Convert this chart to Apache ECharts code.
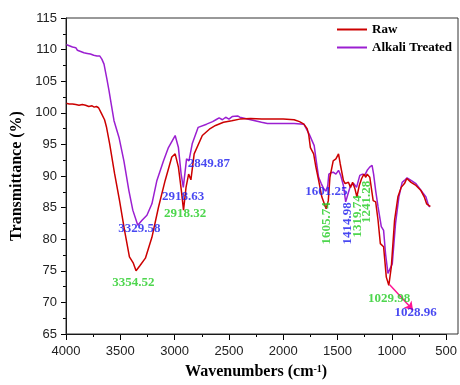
<!DOCTYPE html>
<html>
<head>
<meta charset="utf-8">
<script src="https://cdn.jsdelivr.net/npm/echarts@6/dist/echarts.min.js"></script>
<style>html,body{margin:0;padding:0;background:#fff}#c{width:460px;height:385px}</style>
</head>
<body>
<div id="c"></div>
<script>
// ---- data (wavenumber, transmittance) ----
const rawWave = [4000,3970,3940,3910,3880,3850,3820,3790,3760,3740,3720,3700,3690,3674,3660,3645,3628,3598,3553,3507,3461,3416,3380,3355,3320,3269,3209,3148,3087,3026,2995,2965,2940,2918,2895,2871,2850,2820,2745,2680,2623,2550,2474,2400,2300,2200,2100,2000,1900,1850,1810,1780,1765,1750,1735,1720,1700,1674,1645,1605,1585,1570,1540,1515,1491,1475,1446,1430,1400,1380,1361,1340,1322,1300,1278,1257,1240,1227,1203,1188,1172,1149,1127,1106,1076,1051,1028,1005,975,944,914,884,862,823,778,732,702,680,656,645];
const rawTrans = [101.5,101.4,101.4,101.3,101.2,101.3,101.2,101.0,101.1,100.9,101.0,100.8,101.0,99.9,99.6,98.9,97.8,95.1,90.4,86.1,81.4,77.2,76.2,75.0,75.8,77.0,80.3,85.1,89.3,93.0,93.5,91.4,88.0,84.6,88.2,90.3,89.4,93.5,96.4,97.4,98.0,98.5,98.75,99.0,99.1,99.0,99.0,99.0,98.9,98.6,98.2,97.5,96.5,94.5,94.3,93.5,91.5,89.3,86.7,84.8,86.1,89.8,92.4,92.7,93.5,91.9,89.3,88.8,89.0,88.2,89.0,88.0,86.7,88.5,89.6,90.3,89.8,90.3,89.8,90.1,86.1,85.9,83.0,79.3,78.8,74.0,72.7,75.6,83.0,86.7,88.2,88.8,89.6,89.0,88.5,87.7,86.7,85.6,85.3,85.2];

const alkWave = [4000,3985,3970,3955,3940,3925,3910,3895,3880,3865,3850,3835,3820,3805,3790,3775,3760,3745,3730,3715,3700,3690,3670,3650,3625,3604,3580,3558,3512,3467,3421,3385,3339,3300,3255,3209,3163,3102,3057,2995,2965,2940,2920,2890,2868,2838,2783,2706,2650,2620,2590,2560,2530,2500,2470,2453,2420,2400,2300,2200,2146,2000,1900,1810,1796,1760,1735,1715,1696,1674,1650,1628,1605,1590,1580,1560,1540,1515,1491,1471,1446,1425,1400,1380,1350,1325,1295,1270,1250,1227,1204,1182,1168,1149,1127,1097,1076,1058,1036,1022,996,966,935,905,884,860,823,778,717,686,662,650];
const alkTrans = [110.8,110.5,110.6,110.3,110.4,110.1,110.3,109.9,110.1,109.7,109.9,109.5,109.8,109.4,109.6,109.3,109.5,109.1,109.3,109.0,109.2,109.0,108.5,107.7,105.5,103.5,101.0,98.75,96.1,92.4,87.7,84.6,82.2,83.0,83.8,85.6,89.3,92.4,94.5,96.4,94.5,90.3,88.2,92.7,92.4,95.1,97.7,98.2,98.6,98.9,99.2,98.9,99.3,99.0,99.4,99.2,99.5,99.3,98.9,98.5,98.3,98.3,98.3,98.2,98.0,96.6,95.6,94.8,92.4,89.8,88.8,88.0,87.6,88.5,90.3,90.5,90.6,90.3,90.9,90.1,88.5,85.9,87.4,88.5,88.8,88.2,90.1,90.3,90.1,90.9,91.4,91.7,90.3,87.7,85.1,82.0,81.4,77.7,74.6,74.3,76.1,82.5,86.7,89.0,89.3,89.7,89.3,88.8,87.4,86.7,85.3,85.1];

// peak annotations: [wavenumber, transmittance, text, group, rotated]
const peakLabels = [
  [3379, 73.1, '3354.52', 'raw', 0],
  [3324, 81.6, '3329.58', 'alk', 0],
  [2922, 86.8, '2918.63', 'alk', 0],
  [2903, 84.0, '2918.32', 'raw', 0],
  [2684, 92.0, '2849.87', 'alk', 0],
  [1603, 87.5, '1601.25', 'alk', 0],
  [1597, 82.5, '1605.74', 'raw', 1],
  [1405, 82.5, '1414.98', 'alk', 1],
  [1313, 83.6, '1319.74', 'raw', 1],
  [1228, 85.9, '1241.28', 'raw', 1],
  [1024, 70.6, '1029.98', 'raw', 0],
  [781, 68.4, '1028.96', 'alk', 0]
];
const arrowFrom = [1020, 72.8];
const arrowTo = [805, 68.8];

const RED = '#cc0000', PURPLE = '#9b1fd1', GREEN = '#22cc22', BLUE = '#1a1aee';
const pair = (xs, ys) => xs.map((x, i) => [x, ys[i]]);

const chart = echarts.init(document.getElementById('c'), null, {renderer: 'canvas'});
const axisText = {color: '#222', fontFamily: 'Liberation Sans', fontSize: 13};
chart.setOption({
  animation: false,
  backgroundColor: '#fff',
  grid: {left: 66, right: 11, top: 18, bottom: 51, containLabel: false},
  legend: {
    orient: 'vertical', left: 337, top: 23, padding: 0, icon: 'rect',
    itemWidth: 30, itemHeight: 2, itemGap: 5,
    data: ['Raw', 'Alkali Treated'],
    textStyle: {fontFamily: 'Liberation Serif', fontWeight: 'bold', fontSize: 13, color: '#000'}
  },
  xAxis: {
    type: 'value', inverse: true, min: 500, max: 4000, interval: 500,
    name: 'Wavenumbers (cm{sup|-1})', nameLocation: 'middle', nameGap: 30,
    nameTextStyle: {fontFamily: 'Liberation Serif', fontWeight: 'bold', fontSize: 16, color: '#000',
      rich: {sup: {fontFamily: 'Liberation Serif', fontWeight: 'bold', fontSize: 10, verticalAlign: 'top', lineHeight: 10, color: '#000'}}},
    axisLine: {lineStyle: {color: '#000', width: 1}},
    axisTick: {show: true, inside: false, length: 6, lineStyle: {color: '#000'}},
    minorTick: {show: true, splitNumber: 2, length: 3, lineStyle: {color: '#000'}},
    axisLabel: Object.assign({margin: 11, formatter: v => String(v)}, axisText),
    splitLine: {show: false}, minorSplitLine: {show: false}
  },
  yAxis: {
    type: 'value', min: 65, max: 115, interval: 5,
    name: 'Transmittance (%)', nameLocation: 'middle', nameGap: 30,
    nameTextStyle: {fontFamily: 'Liberation Serif', fontWeight: 'bold', fontSize: 16, color: '#000'},
    axisLine: {lineStyle: {color: '#000', width: 1}},
    axisTick: {show: true, inside: false, length: 5, lineStyle: {color: '#000'}},
    minorTick: {show: true, splitNumber: 2, length: 3, lineStyle: {color: '#000'}},
    axisLabel: Object.assign({margin: 9, formatter: v => String(v)}, axisText),
    splitLine: {show: false}, minorSplitLine: {show: false}
  },
  graphic: [{
    type: 'rect', silent: true, z: 100,
    shape: {x: 66, y: 18, width: 392, height: 316},
    style: {fill: 'none', stroke: '#333', lineWidth: 1}
  }],
  series: [
    {
      name: 'Raw', type: 'line', data: pair(rawWave, rawTrans), symbol: 'none', smooth: false,
      lineStyle: {color: RED, width: 1.5}, itemStyle: {color: RED}, z: 3,
      markLine: {
        silent: true, symbol: ['none', 'arrow'], symbolSize: 8,
        lineStyle: {color: '#ff1493', width: 1.5, type: 'solid'}, label: {show: false},
        data: [[{coord: arrowFrom}, {coord: arrowTo}]]
      }
    },
    {
      name: 'Alkali Treated', type: 'line', data: pair(alkWave, alkTrans), symbol: 'none', smooth: false,
      lineStyle: {color: PURPLE, width: 1.5}, itemStyle: {color: PURPLE}, z: 2
    },
    {
      name: 'labels', type: 'scatter', symbolSize: 0, z: 5, silent: true,
      data: peakLabels.map(p => ({
        value: [p[0], p[1]],
        label: {
          show: true, position: 'inside', formatter: p[2], rotate: p[4] ? 90 : 0,
          color: p[3] === 'raw' ? GREEN : BLUE,
          fontFamily: 'Liberation Serif', fontWeight: 'bold', fontSize: 13
        }
      }))
    }
  ]
});
</script>
</body>
</html>
